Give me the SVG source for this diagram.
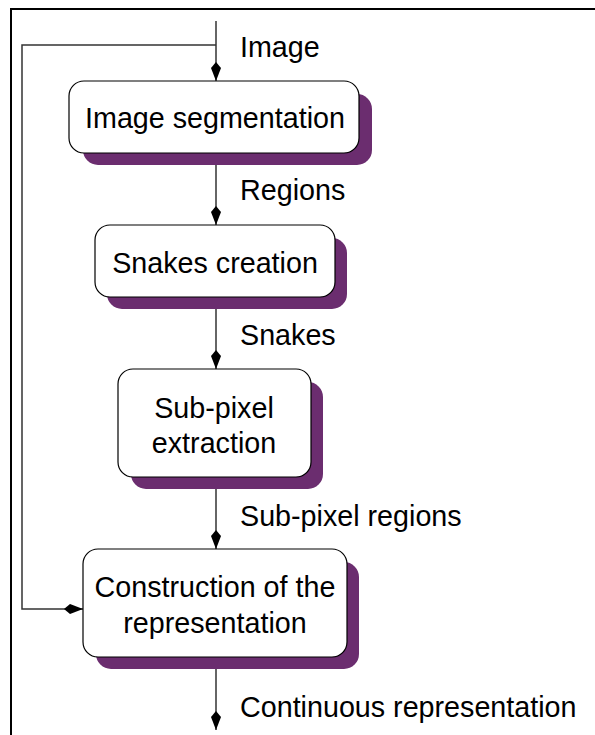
<svg xmlns="http://www.w3.org/2000/svg" width="595" height="735" viewBox="0 0 595 735">
<style>
text{font-family:"Liberation Sans",Arial,sans-serif;font-size:28.7px;fill:#000}
.box{fill:#fff;stroke:#000;stroke-width:1.2}
.sh{fill:#6b2d6f}
.ln{fill:none;stroke:#333;stroke-width:1.5}
.c{text-anchor:middle}
</style>
<defs>
<marker id="ah" markerUnits="userSpaceOnUse" markerWidth="22" markerHeight="12" viewBox="-20 -6 22 12" refX="0" refY="0" orient="auto">
<path d="M0,0 L-13,-5 L-19,0 L-13,5 Z" fill="#000"/>
</marker>
</defs>
<rect x="11" y="9" width="600" height="740" fill="none" stroke="#000" stroke-width="2"/>
<g id="connectors">
<path class="ln" d="M216,21 V81" marker-end="url(#ah)"/>
<path class="ln" d="M216,45 H22 V609 H83" marker-end="url(#ah)"/>
<path class="ln" d="M216,153 V225" marker-end="url(#ah)"/>
<path class="ln" d="M216,297 V369" marker-end="url(#ah)"/>
<path class="ln" d="M216,477 V549" marker-end="url(#ah)"/>
<path class="ln" d="M216,657 V730" marker-end="url(#ah)"/>
</g>
<g id="labels">
<text x="240" y="57">Image</text>
<text x="240" y="200">Regions</text>
<text x="240" y="345">Snakes</text>
<text x="240" y="526">Sub-pixel regions</text>
<text x="240" y="717">Continuous representation</text>
</g>
<g id="n1">
<rect class="sh" x="83" y="94" width="289" height="71" rx="15"/>
<rect class="box" x="69" y="81" width="290" height="72" rx="15"/>
<text class="c" x="215" y="128">Image segmentation</text>
</g>
<g id="n2">
<rect class="sh" x="107" y="238" width="240" height="71" rx="15"/>
<rect class="box" x="95" y="225" width="240" height="72" rx="15"/>
<text class="c" x="215" y="273">Snakes creation</text>
</g>
<g id="n3">
<rect class="sh" x="131" y="382" width="192" height="107" rx="15"/>
<rect class="box" x="118" y="369" width="193" height="108" rx="15"/>
<text class="c" x="214" y="418">Sub-pixel</text>
<text class="c" x="214" y="453">extraction</text>
</g>
<g id="n4">
<rect class="sh" x="96" y="562" width="263" height="107" rx="15"/>
<rect class="box" x="83" y="549" width="264" height="108" rx="15"/>
<text class="c" x="215" y="597">Construction of the</text>
<text class="c" x="215" y="633">representation</text>
</g>
</svg>
